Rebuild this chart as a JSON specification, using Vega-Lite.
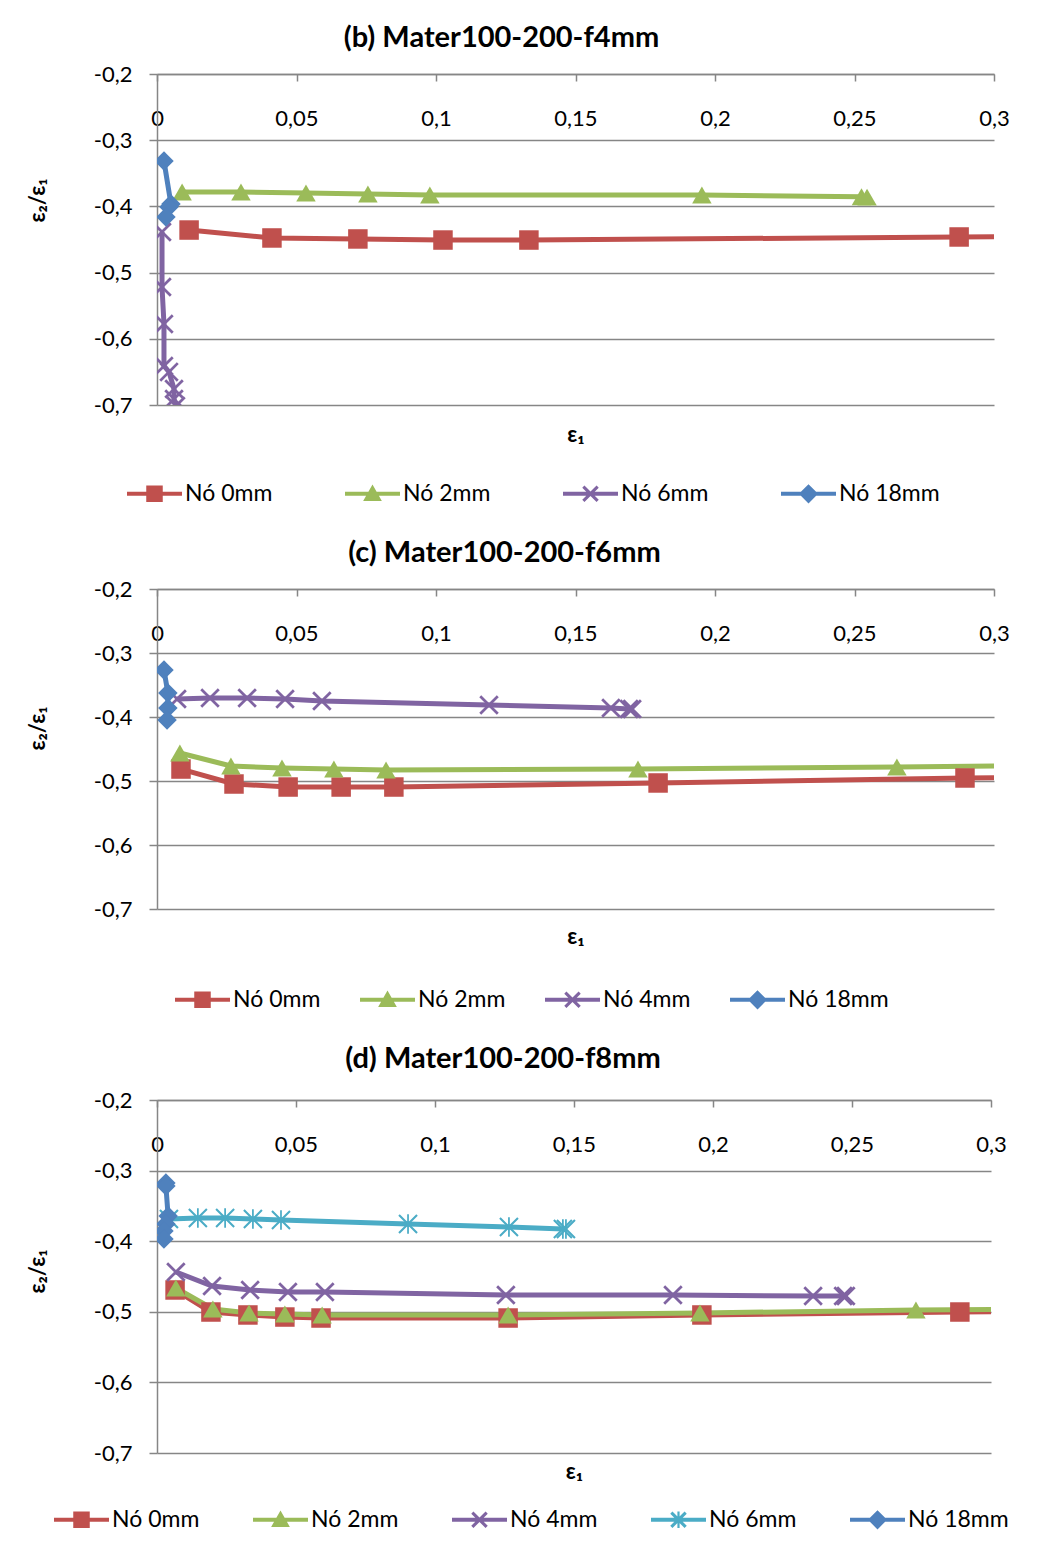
{
  "$schema": "https://vega.github.io/schema/vega-lite/v6.json",
  "background": "white",
  "padding": {"left": 26, "top": 24, "right": 5, "bottom": 5},
  "spacing": 33,
  "datasets": {
    "b": [
      {"s": "Nó 0mm", "i": 1, "x": 0.0115, "y": -0.4357},
      {"s": "Nó 0mm", "i": 2, "x": 0.0412, "y": -0.4477},
      {"s": "Nó 0mm", "i": 3, "x": 0.0720, "y": -0.4492},
      {"s": "Nó 0mm", "i": 4, "x": 0.1025, "y": -0.4508},
      {"s": "Nó 0mm", "i": 5, "x": 0.1333, "y": -0.4508},
      {"s": "Nó 0mm", "i": 6, "x": 0.2875, "y": -0.4462},
      {"s": "Nó 0mm", "i": 7, "x": 0.3300, "y": -0.4450},
      {"s": "Nó 2mm", "i": 1, "x": 0.0090, "y": -0.3782},
      {"s": "Nó 2mm", "i": 2, "x": 0.0301, "y": -0.3782},
      {"s": "Nó 2mm", "i": 3, "x": 0.0534, "y": -0.3798},
      {"s": "Nó 2mm", "i": 4, "x": 0.0756, "y": -0.3813},
      {"s": "Nó 2mm", "i": 5, "x": 0.0978, "y": -0.3828},
      {"s": "Nó 2mm", "i": 6, "x": 0.1953, "y": -0.3828},
      {"s": "Nó 2mm", "i": 7, "x": 0.2525, "y": -0.3855},
      {"s": "Nó 2mm", "i": 8, "x": 0.2545, "y": -0.3860},
      {"s": "Nó 6mm", "i": 1, "x": 0.0018, "y": -0.4387},
      {"s": "Nó 6mm", "i": 2, "x": 0.0018, "y": -0.5218},
      {"s": "Nó 6mm", "i": 3, "x": 0.0025, "y": -0.5776},
      {"s": "Nó 6mm", "i": 4, "x": 0.0025, "y": -0.6410},
      {"s": "Nó 6mm", "i": 5, "x": 0.0043, "y": -0.6500},
      {"s": "Nó 6mm", "i": 6, "x": 0.0061, "y": -0.6758},
      {"s": "Nó 6mm", "i": 7, "x": 0.0061, "y": -0.6910},
      {"s": "Nó 6mm", "i": 8, "x": 0.0068, "y": -0.7015},
      {"s": "Nó 18mm", "i": 1, "x": 0.0025, "y": -0.3314},
      {"s": "Nó 18mm", "i": 2, "x": 0.0050, "y": -0.3964},
      {"s": "Nó 18mm", "i": 3, "x": 0.0043, "y": -0.4010},
      {"s": "Nó 18mm", "i": 4, "x": 0.0032, "y": -0.4160}
    ],
    "c": [
      {"s": "Nó 0mm", "i": 1, "x": 0.0086, "y": -0.4813},
      {"s": "Nó 0mm", "i": 2, "x": 0.0276, "y": -0.5047},
      {"s": "Nó 0mm", "i": 3, "x": 0.0470, "y": -0.5094},
      {"s": "Nó 0mm", "i": 4, "x": 0.0660, "y": -0.5094},
      {"s": "Nó 0mm", "i": 5, "x": 0.0849, "y": -0.5094},
      {"s": "Nó 0mm", "i": 6, "x": 0.1796, "y": -0.5031},
      {"s": "Nó 0mm", "i": 7, "x": 0.2896, "y": -0.4953},
      {"s": "Nó 0mm", "i": 8, "x": 0.3300, "y": -0.4940},
      {"s": "Nó 2mm", "i": 1, "x": 0.0082, "y": -0.4563},
      {"s": "Nó 2mm", "i": 2, "x": 0.0265, "y": -0.4766},
      {"s": "Nó 2mm", "i": 3, "x": 0.0448, "y": -0.4797},
      {"s": "Nó 2mm", "i": 4, "x": 0.0634, "y": -0.4813},
      {"s": "Nó 2mm", "i": 5, "x": 0.0821, "y": -0.4828},
      {"s": "Nó 2mm", "i": 6, "x": 0.1724, "y": -0.4813},
      {"s": "Nó 2mm", "i": 7, "x": 0.2652, "y": -0.4781},
      {"s": "Nó 2mm", "i": 8, "x": 0.3300, "y": -0.4750},
      {"s": "Nó 4mm", "i": 1, "x": 0.0072, "y": -0.3719},
      {"s": "Nó 4mm", "i": 2, "x": 0.0190, "y": -0.3703},
      {"s": "Nó 4mm", "i": 3, "x": 0.0323, "y": -0.3703},
      {"s": "Nó 4mm", "i": 4, "x": 0.0459, "y": -0.3719},
      {"s": "Nó 4mm", "i": 5, "x": 0.0591, "y": -0.3750},
      {"s": "Nó 4mm", "i": 6, "x": 0.1190, "y": -0.3813},
      {"s": "Nó 4mm", "i": 7, "x": 0.1627, "y": -0.3859},
      {"s": "Nó 4mm", "i": 8, "x": 0.1692, "y": -0.3875},
      {"s": "Nó 4mm", "i": 9, "x": 0.1703, "y": -0.3875},
      {"s": "Nó 18mm", "i": 1, "x": 0.0025, "y": -0.3266},
      {"s": "Nó 18mm", "i": 2, "x": 0.0039, "y": -0.3625},
      {"s": "Nó 18mm", "i": 3, "x": 0.0039, "y": -0.3859},
      {"s": "Nó 18mm", "i": 4, "x": 0.0036, "y": -0.4047}
    ],
    "d": [
      {"s": "Nó 0mm", "i": 1, "x": 0.0065, "y": -0.4691},
      {"s": "Nó 0mm", "i": 2, "x": 0.0194, "y": -0.5003},
      {"s": "Nó 0mm", "i": 3, "x": 0.0327, "y": -0.5045},
      {"s": "Nó 0mm", "i": 4, "x": 0.0460, "y": -0.5074},
      {"s": "Nó 0mm", "i": 5, "x": 0.0590, "y": -0.5088},
      {"s": "Nó 0mm", "i": 6, "x": 0.1263, "y": -0.5088},
      {"s": "Nó 0mm", "i": 7, "x": 0.1960, "y": -0.5045},
      {"s": "Nó 0mm", "i": 8, "x": 0.2888, "y": -0.5003},
      {"s": "Nó 0mm", "i": 9, "x": 0.3300, "y": -0.4995},
      {"s": "Nó 2mm", "i": 1, "x": 0.0068, "y": -0.4663},
      {"s": "Nó 2mm", "i": 2, "x": 0.0201, "y": -0.4960},
      {"s": "Nó 2mm", "i": 3, "x": 0.0331, "y": -0.5017},
      {"s": "Nó 2mm", "i": 4, "x": 0.0460, "y": -0.5031},
      {"s": "Nó 2mm", "i": 5, "x": 0.0594, "y": -0.5045},
      {"s": "Nó 2mm", "i": 6, "x": 0.1263, "y": -0.5045},
      {"s": "Nó 2mm", "i": 7, "x": 0.1953, "y": -0.5017},
      {"s": "Nó 2mm", "i": 8, "x": 0.2730, "y": -0.4975},
      {"s": "Nó 2mm", "i": 9, "x": 0.3300, "y": -0.4960},
      {"s": "Nó 4mm", "i": 1, "x": 0.0068, "y": -0.4436},
      {"s": "Nó 4mm", "i": 2, "x": 0.0198, "y": -0.4635},
      {"s": "Nó 4mm", "i": 3, "x": 0.0335, "y": -0.4691},
      {"s": "Nó 4mm", "i": 4, "x": 0.0471, "y": -0.4720},
      {"s": "Nó 4mm", "i": 5, "x": 0.0604, "y": -0.4720},
      {"s": "Nó 4mm", "i": 6, "x": 0.1255, "y": -0.4762},
      {"s": "Nó 4mm", "i": 7, "x": 0.1856, "y": -0.4762},
      {"s": "Nó 4mm", "i": 8, "x": 0.2360, "y": -0.4776},
      {"s": "Nó 4mm", "i": 9, "x": 0.2468, "y": -0.4776},
      {"s": "Nó 4mm", "i": 10, "x": 0.2478, "y": -0.4776},
      {"s": "Nó 6mm", "i": 1, "x": 0.0043, "y": -0.3686},
      {"s": "Nó 6mm", "i": 2, "x": 0.0147, "y": -0.3671},
      {"s": "Nó 6mm", "i": 3, "x": 0.0245, "y": -0.3671},
      {"s": "Nó 6mm", "i": 4, "x": 0.0345, "y": -0.3686},
      {"s": "Nó 6mm", "i": 5, "x": 0.0446, "y": -0.3700},
      {"s": "Nó 6mm", "i": 6, "x": 0.0903, "y": -0.3756},
      {"s": "Nó 6mm", "i": 7, "x": 0.1266, "y": -0.3799},
      {"s": "Nó 6mm", "i": 8, "x": 0.1460, "y": -0.3827},
      {"s": "Nó 6mm", "i": 9, "x": 0.1471, "y": -0.3827},
      {"s": "Nó 18mm", "i": 1, "x": 0.0032, "y": -0.3176},
      {"s": "Nó 18mm", "i": 2, "x": 0.0032, "y": -0.3218},
      {"s": "Nó 18mm", "i": 3, "x": 0.0040, "y": -0.3643},
      {"s": "Nó 18mm", "i": 4, "x": 0.0032, "y": -0.3756},
      {"s": "Nó 18mm", "i": 5, "x": 0.0025, "y": -0.3856},
      {"s": "Nó 18mm", "i": 6, "x": 0.0025, "y": -0.3969}
    ]
  },
  "vconcat": [
    {
      "width": 837, "height": 331,
      "title": {"text": "(b) Mater100-200-f4mm", "dx": -74, "offset": 10},
      "data": {"name": "b"},
      "encoding": {
        "x": {"field": "x", "type": "quantitative", "scale": {"domain": [0, 0.3], "nice": false, "zero": false},
          "axis": {"orient": "bottom", "offset": -331, "values": [0, 0.05, 0.1, 0.15, 0.2, 0.25, 0.3], "labelExpr": "replace(toString(datum.value), '.', ',')", "labelPadding": 37, "labelBaseline": "middle", "tickSize": 7, "grid": false, "title": "ε₁", "titleY": 360}},
        "y": {"field": "y", "type": "quantitative", "scale": {"domain": [-0.7, -0.2], "nice": false, "zero": false},
          "axis": {"values": [-0.7, -0.6, -0.5, -0.4, -0.3, -0.2], "labelExpr": "replace(toString(datum.value), '.', ',')", "labelPadding": 17, "tickSize": 8, "grid": true, "title": "ε₂/ε₁", "titleX": -120, "titleY": 126, "titleAngle": 270}}
      },
      "layer": [
        {"mark": {"type": "line", "strokeWidth": 5, "clip": true},
          "encoding": {
            "color": {"field": "s", "type": "nominal", "scale": {"domain": ["Nó 0mm", "Nó 2mm", "Nó 6mm", "Nó 18mm", "~Nó 0mm", "~Nó 2mm", "~Nó 6mm", "~Nó 18mm"], "range": ["#C0504D", "#9BBB59", "#8064A2", "#4F81BD", "#C0504D", "#9BBB59", "#8064A2", "#4F81BD"]}},
            "order": {"field": "i", "type": "quantitative"}}},
        {"mark": {"type": "point", "filled": true, "opacity": 1, "size": 380, "clip": true},
          "encoding": {
            "color": {"field": "s", "type": "nominal", "scale": {"domain": ["Nó 0mm", "Nó 2mm", "Nó 6mm", "Nó 18mm", "~Nó 0mm", "~Nó 2mm", "~Nó 6mm", "~Nó 18mm"], "range": ["#C0504D", "#9BBB59", "#8064A2", "#4F81BD", "#C0504D", "#9BBB59", "#8064A2", "#4F81BD"]},
              "legend": {"values": ["~Nó 0mm", "~Nó 2mm", "~Nó 6mm", "~Nó 18mm"], "labelExpr": "replace(datum.label, '~', '')", "orient": "none", "legendX": -30, "legendY": 392, "direction": "horizontal", "title": null, "columnPadding": 72}},
            "shape": {"field": "s", "type": "nominal", "scale": {"domain": ["Nó 0mm", "Nó 2mm", "Nó 6mm", "Nó 18mm", "~Nó 0mm", "~Nó 2mm", "~Nó 6mm", "~Nó 18mm"], "range": ["square", "triangle-up", "M-0.8,-1L0,-0.2L0.8,-1L1,-0.8L0.2,0L1,0.8L0.8,1L0,0.2L-0.8,1L-1,0.8L-0.2,0L-1,-0.8Z", "diamond", "M-1,-0.07H1V0.07H-1Z M-0.3,-0.3H0.3V0.3H-0.3Z", "M-1,-0.07H1V0.07H-1Z M0,-0.34L0.34,0.26L-0.34,0.26Z", "M-1,-0.07H1V0.07H-1Z M-0.22,-0.3L0,-0.08L0.22,-0.3L0.3,-0.22L0.08,0L0.3,0.22L0.22,0.3L0,0.08L-0.22,0.3L-0.3,0.22L-0.08,0L-0.3,-0.22Z", "M-1,-0.07H1V0.07H-1Z M0,-0.35L0.35,0L0,0.35L-0.35,0Z"]},
              "legend": {"values": ["~Nó 0mm", "~Nó 2mm", "~Nó 6mm", "~Nó 18mm"], "labelExpr": "replace(datum.label, '~', '')", "orient": "none", "legendX": -30, "legendY": 392, "direction": "horizontal", "title": null, "columnPadding": 72}}}}
      ]
    },
    {
      "width": 837, "height": 320,
      "title": {"text": "(c) Mater100-200-f6mm", "dx": -71, "offset": 10},
      "data": {"name": "c"},
      "encoding": {
        "x": {"field": "x", "type": "quantitative", "scale": {"domain": [0, 0.3], "nice": false, "zero": false},
          "axis": {"orient": "bottom", "offset": -320, "values": [0, 0.05, 0.1, 0.15, 0.2, 0.25, 0.3], "labelExpr": "replace(toString(datum.value), '.', ',')", "labelPadding": 37, "labelBaseline": "middle", "tickSize": 7, "grid": false, "title": "ε₁", "titleY": 347}},
        "y": {"field": "y", "type": "quantitative", "scale": {"domain": [-0.7, -0.2], "nice": false, "zero": false},
          "axis": {"values": [-0.7, -0.6, -0.5, -0.4, -0.3, -0.2], "labelExpr": "replace(toString(datum.value), '.', ',')", "labelPadding": 17, "tickSize": 8, "grid": true, "title": "ε₂/ε₁", "titleX": -120, "titleY": 139, "titleAngle": 270}}
      },
      "layer": [
        {"mark": {"type": "line", "strokeWidth": 5, "clip": true},
          "encoding": {
            "color": {"field": "s", "type": "nominal", "scale": {"domain": ["Nó 0mm", "Nó 2mm", "Nó 4mm", "Nó 18mm", "~Nó 0mm", "~Nó 2mm", "~Nó 4mm", "~Nó 18mm"], "range": ["#C0504D", "#9BBB59", "#8064A2", "#4F81BD", "#C0504D", "#9BBB59", "#8064A2", "#4F81BD"]}},
            "order": {"field": "i", "type": "quantitative"}}},
        {"mark": {"type": "point", "filled": true, "opacity": 1, "size": 380, "clip": true},
          "encoding": {
            "color": {"field": "s", "type": "nominal", "scale": {"domain": ["Nó 0mm", "Nó 2mm", "Nó 4mm", "Nó 18mm", "~Nó 0mm", "~Nó 2mm", "~Nó 4mm", "~Nó 18mm"], "range": ["#C0504D", "#9BBB59", "#8064A2", "#4F81BD", "#C0504D", "#9BBB59", "#8064A2", "#4F81BD"]},
              "legend": {"values": ["~Nó 0mm", "~Nó 2mm", "~Nó 4mm", "~Nó 18mm"], "labelExpr": "replace(datum.label, '~', '')", "orient": "none", "legendX": 18, "legendY": 383, "direction": "horizontal", "title": null, "columnPadding": 39}},
            "shape": {"field": "s", "type": "nominal", "scale": {"domain": ["Nó 0mm", "Nó 2mm", "Nó 4mm", "Nó 18mm", "~Nó 0mm", "~Nó 2mm", "~Nó 4mm", "~Nó 18mm"], "range": ["square", "triangle-up", "M-0.8,-1L0,-0.2L0.8,-1L1,-0.8L0.2,0L1,0.8L0.8,1L0,0.2L-0.8,1L-1,0.8L-0.2,0L-1,-0.8Z", "diamond", "M-1,-0.07H1V0.07H-1Z M-0.3,-0.3H0.3V0.3H-0.3Z", "M-1,-0.07H1V0.07H-1Z M0,-0.34L0.34,0.26L-0.34,0.26Z", "M-1,-0.07H1V0.07H-1Z M-0.22,-0.3L0,-0.08L0.22,-0.3L0.3,-0.22L0.08,0L0.3,0.22L0.22,0.3L0,0.08L-0.22,0.3L-0.3,0.22L-0.08,0L-0.3,-0.22Z", "M-1,-0.07H1V0.07H-1Z M0,-0.35L0.35,0L0,0.35L-0.35,0Z"]},
              "legend": {"values": ["~Nó 0mm", "~Nó 2mm", "~Nó 4mm", "~Nó 18mm"], "labelExpr": "replace(datum.label, '~', '')", "orient": "none", "legendX": 18, "legendY": 383, "direction": "horizontal", "title": null, "columnPadding": 39}}}}
      ]
    },
    {
      "width": 834, "height": 353,
      "title": {"text": "(d) Mater100-200-f8mm", "dx": -71, "offset": 15},
      "data": {"name": "d"},
      "encoding": {
        "x": {"field": "x", "type": "quantitative", "scale": {"domain": [0, 0.3], "nice": false, "zero": false},
          "axis": {"orient": "bottom", "offset": -353, "values": [0, 0.05, 0.1, 0.15, 0.2, 0.25, 0.3], "labelExpr": "replace(toString(datum.value), '.', ',')", "labelPadding": 37, "labelBaseline": "middle", "tickSize": 7, "grid": false, "title": "ε₁", "titleY": 371}},
        "y": {"field": "y", "type": "quantitative", "scale": {"domain": [-0.7, -0.2], "nice": false, "zero": false},
          "axis": {"values": [-0.7, -0.6, -0.5, -0.4, -0.3, -0.2], "labelExpr": "replace(toString(datum.value), '.', ',')", "labelPadding": 17, "tickSize": 8, "grid": true, "title": "ε₂/ε₁", "titleX": -120, "titleY": 171, "titleAngle": 270}}
      },
      "layer": [
        {"mark": {"type": "line", "strokeWidth": 5, "clip": true},
          "encoding": {
            "color": {"field": "s", "type": "nominal", "scale": {"domain": ["Nó 0mm", "Nó 2mm", "Nó 4mm", "Nó 6mm", "Nó 18mm", "~Nó 0mm", "~Nó 2mm", "~Nó 4mm", "~Nó 6mm", "~Nó 18mm"], "range": ["#C0504D", "#9BBB59", "#8064A2", "#4BACC6", "#4F81BD", "#C0504D", "#9BBB59", "#8064A2", "#4BACC6", "#4F81BD"]}},
            "order": {"field": "i", "type": "quantitative"}}},
        {"mark": {"type": "point", "filled": true, "opacity": 1, "size": 380, "clip": true},
          "encoding": {
            "color": {"field": "s", "type": "nominal", "scale": {"domain": ["Nó 0mm", "Nó 2mm", "Nó 4mm", "Nó 6mm", "Nó 18mm", "~Nó 0mm", "~Nó 2mm", "~Nó 4mm", "~Nó 6mm", "~Nó 18mm"], "range": ["#C0504D", "#9BBB59", "#8064A2", "#4BACC6", "#4F81BD", "#C0504D", "#9BBB59", "#8064A2", "#4BACC6", "#4F81BD"]},
              "legend": {"values": ["~Nó 0mm", "~Nó 2mm", "~Nó 4mm", "~Nó 6mm", "~Nó 18mm"], "labelExpr": "replace(datum.label, '~', '')", "orient": "none", "legendX": -103, "legendY": 392, "direction": "horizontal", "title": null, "columnPadding": 53}},
            "shape": {"field": "s", "type": "nominal", "scale": {"domain": ["Nó 0mm", "Nó 2mm", "Nó 4mm", "Nó 6mm", "Nó 18mm", "~Nó 0mm", "~Nó 2mm", "~Nó 4mm", "~Nó 6mm", "~Nó 18mm"], "range": ["square", "triangle-up", "M-0.8,-1L0,-0.2L0.8,-1L1,-0.8L0.2,0L1,0.8L0.8,1L0,0.2L-0.8,1L-1,0.8L-0.2,0L-1,-0.8Z", "M-0.85,-1L0,-0.15L0.85,-1L1,-0.85L0.15,0L1,0.85L0.85,1L0,0.15L-0.85,1L-1,0.85L-0.15,0L-1,-0.85Z M-0.09,-1H0.09V1H-0.09Z", "diamond", "M-1,-0.07H1V0.07H-1Z M-0.3,-0.3H0.3V0.3H-0.3Z", "M-1,-0.07H1V0.07H-1Z M0,-0.34L0.34,0.26L-0.34,0.26Z", "M-1,-0.07H1V0.07H-1Z M-0.22,-0.3L0,-0.08L0.22,-0.3L0.3,-0.22L0.08,0L0.3,0.22L0.22,0.3L0,0.08L-0.22,0.3L-0.3,0.22L-0.08,0L-0.3,-0.22Z", "M-1,-0.07H1V0.07H-1Z M-0.22,-0.3L0,-0.08L0.22,-0.3L0.3,-0.22L0.08,0L0.3,0.22L0.22,0.3L0,0.08L-0.22,0.3L-0.3,0.22L-0.08,0L-0.3,-0.22Z M-0.04,-0.3H0.04V0.3H-0.04Z", "M-1,-0.07H1V0.07H-1Z M0,-0.35L0.35,0L0,0.35L-0.35,0Z"]},
              "legend": {"values": ["~Nó 0mm", "~Nó 2mm", "~Nó 4mm", "~Nó 6mm", "~Nó 18mm"], "labelExpr": "replace(datum.label, '~', '')", "orient": "none", "legendX": -103, "legendY": 392, "direction": "horizontal", "title": null, "columnPadding": 53}}}}
      ]
    }
  ],
  "resolve": {
    "scale": {"x": "independent", "y": "independent", "color": "independent", "shape": "independent"},
    "legend": {"color": "independent", "shape": "independent"}
  },
  "config": {
    "font": "Lato",
    "view": {"stroke": null},
    "title": {"font": "Lato", "fontSize": 29, "fontWeight": "bold", "color": "black", "anchor": "middle", "frame": "group"},
    "axis": {"labelFont": "Lato", "labelFontSize": 22, "labelColor": "black", "labelFlush": false, "tickColor": "#868686", "tickWidth": 1.5, "domainColor": "#868686", "domainWidth": 1.5, "gridColor": "#868686", "gridWidth": 1.5, "titleFont": "Lato", "titleFontSize": 22, "titleFontWeight": "bold", "titleColor": "black", "titleBaseline": "middle"},
    "legend": {"disable": true, "labelFont": "Lato", "labelFontSize": 23, "labelColor": "black", "labelLimit": 300, "labelOffset": 3, "symbolSize": 3025, "symbolStrokeWidth": 0, "symbolOpacity": 1}
  }
}
